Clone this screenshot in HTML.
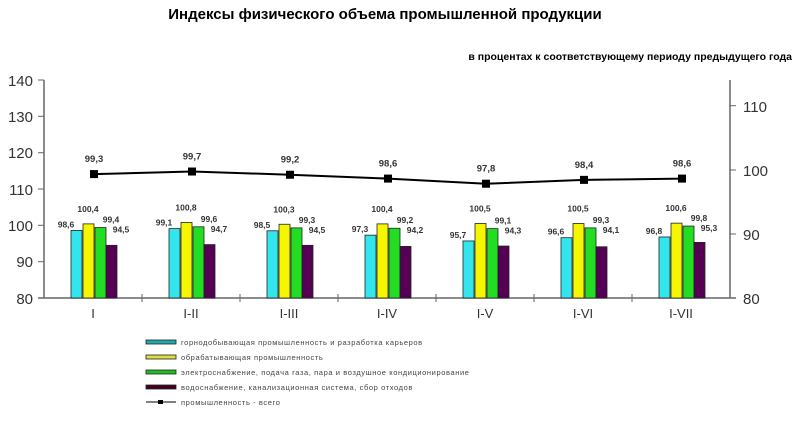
<!DOCTYPE html>
<html><head><meta charset="utf-8"><style>
body{margin:0;background:#fff;width:800px;height:416px;overflow:hidden}
text{font-family:"Liberation Sans",sans-serif}
</style></head><body>
<svg width="800" height="416" xmlns="http://www.w3.org/2000/svg">
<text x="385" y="19" font-size="15" font-weight="bold" text-anchor="middle">Индексы физического объема промышленной продукции</text>
<text x="792" y="60" font-size="10.5" font-weight="bold" text-anchor="end">в процентах к соответствующему периоду предыдущего года</text>
<g stroke="#666" stroke-width="1.5">
<line x1="44" y1="80" x2="44" y2="298"/>
<line x1="730" y1="80" x2="730" y2="298"/>
<line x1="38" y1="298" x2="736" y2="298"/>
</g>
<g stroke="#666" stroke-width="1">
<line x1="38" y1="80" x2="44" y2="80"/><line x1="38" y1="116.3" x2="44" y2="116.3"/><line x1="38" y1="152.7" x2="44" y2="152.7"/><line x1="38" y1="189" x2="44" y2="189"/><line x1="38" y1="225.3" x2="44" y2="225.3"/><line x1="38" y1="261.7" x2="44" y2="261.7"/>
<line x1="730" y1="105.7" x2="736" y2="105.7"/><line x1="730" y1="170" x2="736" y2="170"/><line x1="730" y1="234" x2="736" y2="234"/>
<line x1="142" y1="294" x2="142" y2="302"/><line x1="240" y1="294" x2="240" y2="302"/><line x1="338" y1="294" x2="338" y2="302"/><line x1="436" y1="294" x2="436" y2="302"/><line x1="534" y1="294" x2="534" y2="302"/><line x1="632" y1="294" x2="632" y2="302"/>
</g>
<g font-size="15" fill="#333" text-anchor="end">
<text x="33" y="86">140</text><text x="33" y="122">130</text><text x="33" y="158">120</text><text x="33" y="195">110</text><text x="33" y="231">100</text><text x="33" y="267">90</text><text x="33" y="304">80</text>
</g>
<g font-size="15" fill="#333">
<text x="743" y="112">110</text><text x="743" y="176">100</text><text x="743" y="240">90</text><text x="743" y="304">80</text>
</g>
<g font-size="13" fill="#333" text-anchor="middle">
<text x="93" y="318">I</text><text x="191" y="318">I-II</text><text x="289" y="318">I-III</text><text x="387" y="318">I-IV</text><text x="485" y="318">I-V</text><text x="583" y="318">I-VI</text><text x="681" y="318">I-VII</text>
</g>
<g id="bars" stroke="#222" stroke-width="0.8"></g>
<g id="labels" font-size="8.5" font-family="Liberation Serif" font-weight="bold" fill="#333" text-anchor="middle"></g>
<polyline id="ln" fill="none" stroke="#000" stroke-width="2"/>
<g id="mk"></g>
<g font-size="7.5" fill="#444" letter-spacing="0.6">
<rect x="146" y="340" width="30" height="4" fill="#2aa" stroke="#222" stroke-width="0.8"/><text x="181" y="345">горнодобывающая промышленность и разработка карьеров</text>
<rect x="146" y="355" width="30" height="4" fill="#dd4" stroke="#222" stroke-width="0.8"/><text x="181" y="360">обрабатывающая промышленность</text>
<rect x="146" y="370" width="30" height="4" fill="#2b2" stroke="#222" stroke-width="0.8"/><text x="181" y="375">электроснабжение, подача газа, пара и воздушное кондиционирование</text>
<rect x="146" y="385" width="30" height="4" fill="#402" stroke="#222" stroke-width="0.8"/><text x="181" y="390">водоснабжение, канализационная система, сбор отходов</text>
<line x1="146" y1="402" x2="176" y2="402" stroke="#000" stroke-width="1"/><rect x="158" y="400" width="5" height="4" fill="#000"/><text x="181" y="405">промышленность - всего</text>
</g>
</svg>
<script>
var d=[[98.6,100.4,99.4,94.5,99.3],[99.1,100.8,99.6,94.7,99.7],[98.5,100.3,99.3,94.5,99.2],[97.3,100.4,99.2,94.2,98.6],[95.7,100.5,99.1,94.3,97.8],[96.6,100.5,99.3,94.1,98.4],[96.8,100.6,99.8,95.3,98.6]];
var col=["#33e6ee","#f6f600","#22dd22","#550055"],off=[-23,-11,1,12];
var ns="http://www.w3.org/2000/svg",B=document.getElementById("bars"),L=document.getElementById("labels"),M=document.getElementById("mk"),pts=[];
function yl(v){return 298-(v-80)*3.633}function yr(v){return 298-(v-80)*6.42}
function fmt(v){return v.toFixed(1).replace(".",",")}
d.forEach(function(r,i){var c=94+98*i;
for(var k=0;k<4;k++){var e=document.createElementNS(ns,"rect");var y=yl(r[k]);e.setAttribute("x",c+off[k]);e.setAttribute("y",y);e.setAttribute("width",11);e.setAttribute("height",298-y);e.setAttribute("fill",col[k]);B.appendChild(e);
var t=document.createElementNS(ns,"text");var lx=[c-28,c-6,c+17,c+27][k],ly=[y-3,y-12,y-5,y-12][k];if(k==3)ly=yl(r[2])+5;
t.setAttribute("x",lx);t.setAttribute("y",ly);t.textContent=fmt(r[k]);L.appendChild(t);}
var y5=yr(r[4]);pts.push(c+","+y5);var m=document.createElementNS(ns,"rect");m.setAttribute("x",c-4);m.setAttribute("y",y5-4);m.setAttribute("width",8);m.setAttribute("height",8);M.appendChild(m);
var t=document.createElementNS(ns,"text");t.setAttribute("x",c);t.setAttribute("y",y5-12);t.setAttribute("font-size","9.5");t.textContent=fmt(r[4]);L.appendChild(t);});
document.getElementById("ln").setAttribute("points",pts.join(" "));
</script>
</body></html>
